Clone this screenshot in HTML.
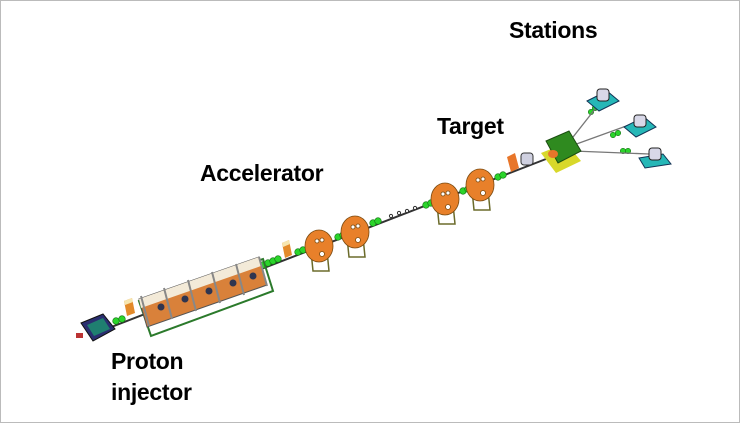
<!DOCTYPE html>
<html><head><style>
html,body{margin:0;padding:0;background:#fff;}
.w{position:relative;width:738px;height:421px;border:1px solid #bbb;overflow:hidden;background:#fff;}
.t{position:absolute;font-family:"Liberation Sans",sans-serif;font-weight:bold;font-size:23px;color:#000;letter-spacing:-0.3px;line-height:1;}
svg{position:absolute;left:0;top:0;}
</style></head><body><div class="w">
<svg width="740" height="423" viewBox="0 0 740 423">
<line x1="100" y1="330" x2="545" y2="158" stroke="#333" stroke-width="2"/>
<!-- injector -->
<polygon points="80,322 102,313 114,328 92,340" fill="#2a2e70" stroke="#111"/>
<polygon points="86,324 102,317 109,328 93,335" fill="#1f7f70"/>
<rect x="75" y="332" width="7" height="5" fill="#b33"/>
<g fill="#2bd42b" stroke="#117011" stroke-width="0.6">
<circle cx="115" cy="320" r="3.3"/><circle cx="121" cy="318" r="3.3"/>
<circle cx="262" cy="264" r="3.3"/><circle cx="267" cy="262" r="3.3"/><circle cx="272" cy="260" r="3.3"/><circle cx="277" cy="258" r="3.3"/>
<circle cx="297" cy="251" r="3.3"/><circle cx="302" cy="249" r="3.3"/>
<circle cx="337" cy="236" r="3.3"/><circle cx="342" cy="234" r="3.3"/>
<circle cx="372" cy="222" r="3.3"/><circle cx="377" cy="220" r="3.3"/>
<circle cx="425" cy="204" r="3.3"/><circle cx="430" cy="202" r="3.3"/>
<circle cx="462" cy="190" r="3.3"/><circle cx="467" cy="188" r="3.3"/>
<circle cx="497" cy="176" r="3.3"/><circle cx="502" cy="174" r="3.3"/>
<circle cx="590" cy="111" r="2.7"/><circle cx="594" cy="107" r="2.7"/>
<circle cx="612" cy="134" r="2.7"/><circle cx="617" cy="132" r="2.7"/>
<circle cx="622" cy="150" r="2.7"/><circle cx="627" cy="150" r="2.7"/>
</g>
<g fill="#fff" stroke="#333" stroke-width="1"><circle cx="390" cy="215" r="1.6"/><circle cx="398" cy="212" r="1.6"/><circle cx="406" cy="210" r="1.6"/><circle cx="414" cy="207" r="1.6"/></g>
<polygon points="123,300 131,297 134,312 126,315" fill="#e38a2a"/><polygon points="123,300 131,297 132,301 124,304" fill="#f6e6b0"/>
<polygon points="281,242 288,239 291,254 284,257" fill="#e38a2a"/><polygon points="281,242 288,239 289,243 282,246" fill="#f6e6b0"/>
<!-- linac -->
<polygon points="138,300 262,258 272,290 150,335" fill="none" stroke="#2b7a2b" stroke-width="2"/>
<polygon points="138,298 258,256 266,284 146,326" fill="#d9813a" stroke="#555" stroke-width="1"/>
<polygon points="138,298 258,256 260,265 140,307" fill="#f3ead8"/>
<g stroke="#888" stroke-width="2"><line x1="140" y1="295" x2="148" y2="325"/><line x1="163" y1="287" x2="171" y2="318"/><line x1="187" y1="279" x2="195" y2="310"/><line x1="211" y1="271" x2="219" y2="302"/><line x1="235" y1="263" x2="243" y2="294"/><line x1="258" y1="256" x2="266" y2="285"/></g>
<g fill="#2f3550"><circle cx="160" cy="306" r="3.5"/><circle cx="184" cy="298" r="3.5"/><circle cx="208" cy="290" r="3.5"/><circle cx="232" cy="282" r="3.5"/><circle cx="252" cy="275" r="3.5"/></g>
<g stroke="#7a4a10" stroke-width="0.8">
<g transform="translate(318,245)"><polygon points="-8,5 8,5 10,25 -6,25" fill="none" stroke="#6b6b2b" stroke-width="1.5"/><ellipse cx="0" cy="0" rx="14" ry="16" fill="#e8802a"/><circle cx="-2" cy="-5" r="2" fill="#fff"/><circle cx="3" cy="-6" r="2" fill="#fff"/><circle cx="3" cy="8" r="2.5" fill="#fff"/></g>
<g transform="translate(354,231)"><polygon points="-8,5 8,5 10,25 -6,25" fill="none" stroke="#6b6b2b" stroke-width="1.5"/><ellipse cx="0" cy="0" rx="14" ry="16" fill="#e8802a"/><circle cx="-2" cy="-5" r="2" fill="#fff"/><circle cx="3" cy="-6" r="2" fill="#fff"/><circle cx="3" cy="8" r="2.5" fill="#fff"/></g>
<g transform="translate(444,198)"><polygon points="-8,5 8,5 10,25 -6,25" fill="none" stroke="#6b6b2b" stroke-width="1.5"/><ellipse cx="0" cy="0" rx="14" ry="16" fill="#e8802a"/><circle cx="-2" cy="-5" r="2" fill="#fff"/><circle cx="3" cy="-6" r="2" fill="#fff"/><circle cx="3" cy="8" r="2.5" fill="#fff"/></g>
<g transform="translate(479,184)"><polygon points="-8,5 8,5 10,25 -6,25" fill="none" stroke="#6b6b2b" stroke-width="1.5"/><ellipse cx="0" cy="0" rx="14" ry="16" fill="#e8802a"/><circle cx="-2" cy="-5" r="2" fill="#fff"/><circle cx="3" cy="-6" r="2" fill="#fff"/><circle cx="3" cy="8" r="2.5" fill="#fff"/></g>
</g>
<polygon points="506,156 514,152 518,167 510,171" fill="#e8762a"/>
<rect x="520" y="152" width="12" height="12" rx="3" fill="#cfd0e0" stroke="#333"/>
<g stroke="#777" stroke-width="1.3"><line x1="565" y1="145" x2="598" y2="103"/><line x1="570" y1="145" x2="628" y2="124"/><line x1="572" y1="150" x2="648" y2="153"/></g>
<polygon points="540,152 565,142 580,160 555,172" fill="#d8d82a"/>
<polygon points="545,140 568,130 580,150 557,162" fill="#2f8a1f" stroke="#1a4d10"/>
<ellipse cx="552" cy="153" rx="5" ry="4" fill="#e8762a"/>
<g transform="translate(600,98)"><polygon points="-14,2 6,-8 18,2 -2,12" fill="#26b7b7" stroke="#135"/><rect x="-4" y="-10" width="12" height="12" rx="3" fill="#d8d8e8" stroke="#222"/></g>
<g transform="translate(637,124)"><polygon points="-14,2 6,-8 18,2 -2,12" fill="#26b7b7" stroke="#135"/><rect x="-4" y="-10" width="12" height="12" rx="3" fill="#d8d8e8" stroke="#222"/></g>
<g transform="translate(652,157)"><polygon points="-14,0 10,-4 18,6 -8,10" fill="#26b7b7" stroke="#135"/><rect x="-4" y="-10" width="12" height="12" rx="3" fill="#d8d8e8" stroke="#222"/></g>
</svg>
<div class="t" style="left:508px;top:18px;">Stations</div>
<div class="t" style="left:436px;top:114px;">Target</div>
<div class="t" style="left:199px;top:161px;">Accelerator</div>
<div class="t" style="left:110px;top:349px;">Proton</div>
<div class="t" style="left:110px;top:380px;">injector</div>
</div></body></html>
